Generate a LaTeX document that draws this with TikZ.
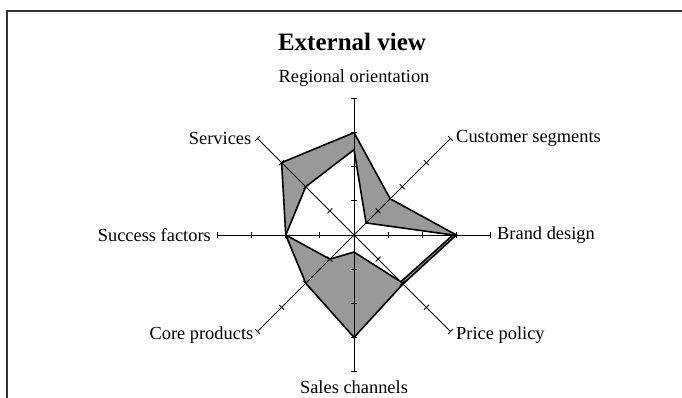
\documentclass[tikz,border=0pt]{standalone}
\usepackage{fontspec}
\setmainfont{Liberation Serif}
\usepackage{tikz}
\usetikzlibrary{positioning}

\begin{document}
\begin{tikzpicture}[
  x=1pt, y=1pt,
  axis/.style={line width=0.8pt},
  tick/.style={line width=0.8pt},
  series/.style={line width=1.6pt, line join=miter},
  band/.style={fill=black!40},
  axlabel/.style={font=\fontsize{18.4}{20}\selectfont, inner sep=2pt}
]
\useasboundingbox (0,0) rectangle (682,398);
% frame
\draw[line width=1.5pt, black!80] (7,-10) -- (7,387) -- (700,387);

\node[font=\bfseries\fontsize{25}{28}\selectfont, anchor=base] (title) at (352,347.3) {External view};

\begin{scope}[shift={(354,163)}, x=34.125pt, y=34.125pt]
% band between the two series
\fill[band] (90:3) -- (45:1.5) -- (0:3) -- (-45:2.03) -- (-90:3) -- (-135:2) -- (180:2) -- (135:3) -- cycle;
\fill[white] (90:2.5) -- (45:0.5) -- (0:2.9) -- (-45:1.94) -- (-90:0.5) -- (-135:1) -- (180:2) -- (135:2) -- cycle;

% axes
\foreach \ang/\nm in {90/reg, 45/cust, 0/brand, -45/price, -90/sales, -135/core, 180/succ, 135/serv} {
  \draw[axis] (0,0) -- (\ang:4) coordinate (\nm);
  \foreach \r in {1,2,3,4}
    \draw[tick, rotate=\ang] (\r,-0.1) -- (\r,0.1);
}

% series
\draw[series] (90:3) -- (45:1.5) -- (0:3) -- (-45:2.03) -- (-90:3) -- (-135:2) -- (180:2) -- (135:3) -- cycle;
\draw[series] (90:2.5) -- (45:0.5) -- (0:2.9) -- (-45:1.94) -- (-90:0.5) -- (-135:1) -- (180:2) -- (135:2) -- cycle;
\end{scope}

% labels
\node[axlabel, above=9.5pt of reg] (lreg) {Regional orientation};
\node[axlabel, right=3.5pt of cust] (lcust) {Customer segments};
\node[axlabel, right=4.5pt of brand] (lbrand) {Brand design};
\node[axlabel, right=3.5pt of price, yshift=-3.5pt] (lprice) {Price policy};
\node[axlabel, below=7pt of sales] (lsales) {Sales channels};
\node[axlabel, left=2pt of core, yshift=-3.5pt] (lcore) {Core products};
\node[axlabel, left=4.5pt of succ] (lsucc) {Success factors};
\node[axlabel, left=4pt of serv] (lserv) {Services};
\end{tikzpicture}
\end{document}
